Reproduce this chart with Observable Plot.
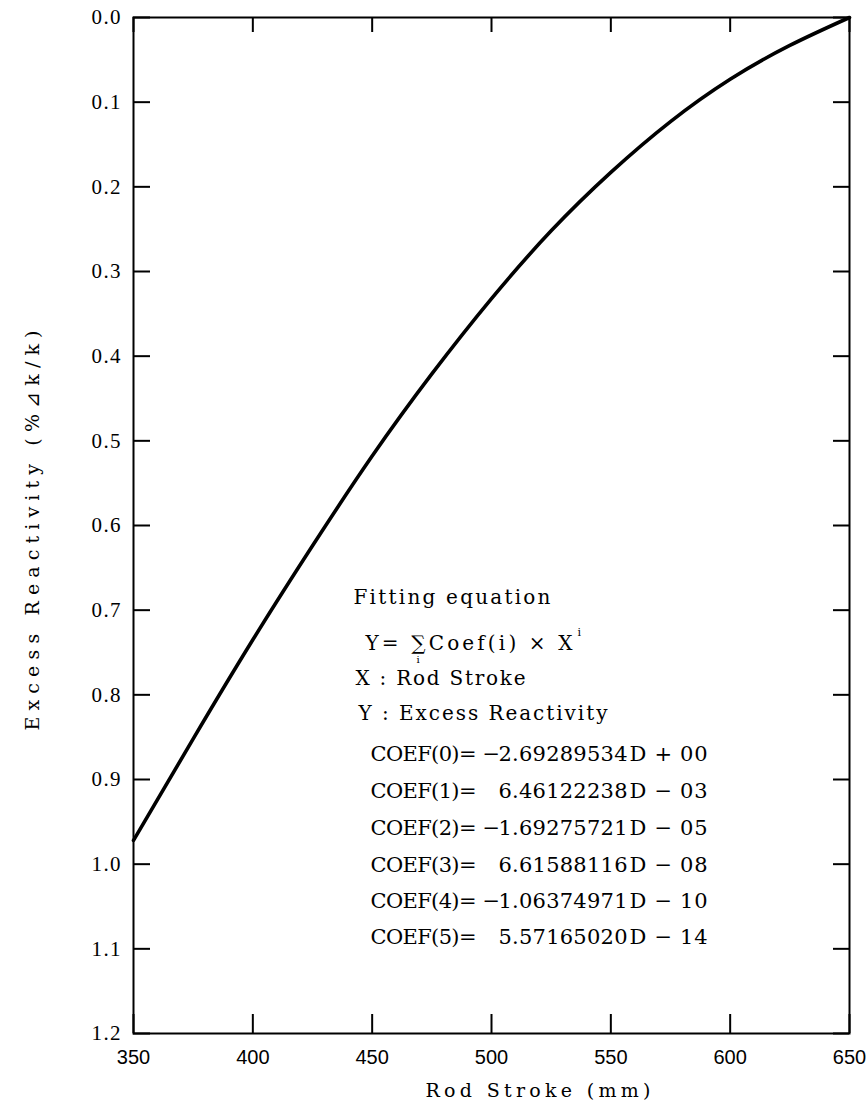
<!DOCTYPE html>
<html><head><meta charset="utf-8">
<script src="https://cdn.jsdelivr.net/npm/d3@7"></script>
<script src="https://cdn.jsdelivr.net/npm/@observablehq/plot@0.6"></script>
<style>html,body{margin:0;padding:0;background:#fff}</style>
</head><body><div id="chart"></div>
<script>
// ---- data ----
const rodStroke = [350, 375, 400, 425, 450, 475, 500, 525, 550, 575, 600, 625, 650];
const excessReactivity = [0.972, 0.852, 0.735, 0.624, 0.518, 0.421, 0.332, 0.252, 0.183, 0.123, 0.073, 0.033, 0.000];
const xTicks = [350, 400, 450, 500, 550, 600, 650];
const xTickLabels = ["350", "400", "450", "500", "550", "600", "650"];
const yTicks = [0.0, 0.1, 0.2, 0.3, 0.4, 0.5, 0.6, 0.7, 0.8, 0.9, 1.0, 1.1, 1.2];
const yTickLabels = ["0.0", "0.1", "0.2", "0.3", "0.4", "0.5", "0.6", "0.7", "0.8", "0.9", "1.0", "1.1", "1.2"];
const xTitle = "Rod Stroke (mm)";
const yTitle = "Excess Reactivity (%\u22BFk/k)";
const noteLines = ["Fitting equation", "Y= \u2211Coef(i) \u00D7 X", "X : Rod Stroke", "Y : Excess Reactivity"];
const coefLabels = ["COEF(0)=", "COEF(1)=", "COEF(2)=", "COEF(3)=", "COEF(4)=", "COEF(5)="];
const coefSigns = ["\u2212", "", "\u2212", "", "\u2212", ""];
const coefMantissas = ["2.69289534", "6.46122238", "1.69275721", "6.61588116", "1.06374971", "5.57165020"];
const coefExponents = ["D + 00", "D \u2212 03", "D \u2212 05", "D \u2212 08", "D \u2212 10", "D \u2212 14"];

const rows = rodStroke.map((x, i) => ({x, y: excessReactivity[i]}));

// ---- layout ----
const W = 867, H = 1108, ML = 133, MR = 18, MT = 17, MB = 75;
const PW = W - ML - MR, PH = H - MT - MB;
const SERIF = "'Liberation Serif', 'DejaVu Serif', serif";
const WIDE = "'DejaVu Serif', 'Liberation Serif', serif";
const SANS = "'Liberation Sans', Arial, sans-serif";
const fits = new Map(); // text content -> target rendered width (px)
function label(data, xpx, ypx, size, width, opts = {}) {
  if (width) fits.set(data, width);
  return Plot.text([data], {
    frameAnchor: "top-left", dx: xpx - ML, dy: ypx - MT, text: d => d,
    textAnchor: "start", lineAnchor: "middle", fontSize: size, fontFamily: WIDE,
    fill: "black", ...opts
  });
}

const marks = [];
marks.push(Plot.line(rows, {x: "x", y: "y", curve: "natural", stroke: "black", strokeWidth: 3.6}));
marks.push(Plot.frame({stroke: "black", strokeWidth: 2}));
marks.push(Plot.tickX(xTicks, {x: d => d, insetTop: PH - 19, stroke: "black", strokeWidth: 2}));
marks.push(Plot.tickX(xTicks, {x: d => d, insetBottom: PH - 15, stroke: "black", strokeWidth: 2}));
marks.push(Plot.tickY(yTicks, {y: d => d, insetRight: PW - 17, stroke: "black", strokeWidth: 2}));
marks.push(Plot.tickY(yTicks, {y: d => d, insetLeft: PW - 16, stroke: "black", strokeWidth: 2}));
marks.push(Plot.text(xTicks, {x: d => d, frameAnchor: "bottom", dy: 24, text: (d, i) => xTickLabels[i],
  lineAnchor: "middle", fontSize: 20, fontFamily: SANS, fill: "black"}));
marks.push(Plot.text(yTicks, {y: d => d, frameAnchor: "left", dx: -13, text: (d, i) => yTickLabels[i],
  textAnchor: "end", lineAnchor: "middle", fontSize: 21, fontFamily: SERIF, fill: "black"}));
yTickLabels.forEach(t => fits.set(t, 29));
marks.push(label(xTitle, 425, 1090, 19, 225));
fits.set(yTitle, 400);
marks.push(Plot.text([yTitle], {frameAnchor: "left", dx: 32 - ML, dy: 205, rotate: -90, text: d => d,
  textAnchor: "start", lineAnchor: "middle", fontSize: 19, fontFamily: WIDE, fill: "black"}));
marks.push(label(noteLines[0], 353, 597, 20, 197));
marks.push(label(noteLines[1], 365, 643, 20, 207));
marks.push(label("i", 577, 632, 11, 0));
marks.push(label("i", 416, 659, 10, 0));
marks.push(label(noteLines[2], 355, 678, 20, 170));
marks.push(label(noteLines[3], 358, 713, 20, 249));
const rowY = [754, 791, 828, 865, 901, 937];
coefLabels.forEach((c, i) => {
  marks.push(label(c, 370, rowY[i], 21, 106));
  if (coefSigns[i]) marks.push(label(coefSigns[i], 482, rowY[i], 21, 0));
  marks.push(label(coefMantissas[i], 498, rowY[i], 21, 129));
  marks.push(label(coefExponents[i], 629, rowY[i], 21, 78));
});

const plot = Plot.plot({
  width: W, height: H, marginLeft: ML, marginRight: MR, marginTop: MT, marginBottom: MB,
  x: {domain: [350, 650], axis: null},
  y: {domain: [0, 1.2], reverse: true, axis: null},
  style: {background: "#fff", color: "black"},
  marks
});
d3.select(plot).selectAll("text").each(function() {
  const w = fits.get(this.textContent);
  if (w) { this.setAttribute("textLength", w); this.setAttribute("lengthAdjust", "spacing"); }
});
document.getElementById("chart").appendChild(plot);
</script>
</body></html>
